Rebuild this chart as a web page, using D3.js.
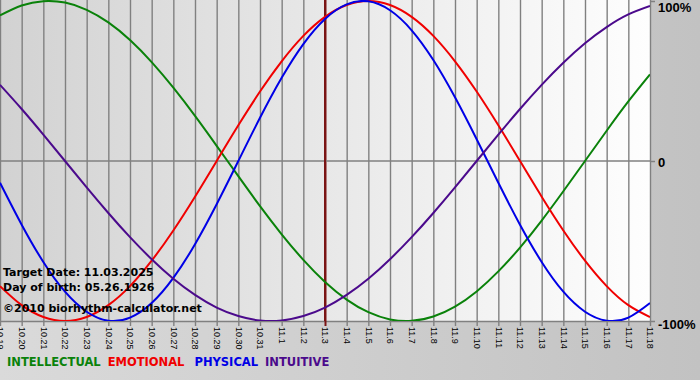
<!DOCTYPE html>
<html>
<head>
<meta charset="utf-8">
<script src="https://cdn.jsdelivr.net/npm/d3@7"></script>
<style>
	body { margin: 0; background: #c8c8c8; }
	svg { display: block; font-family: "DejaVu Sans", Verdana, sans-serif; }
	.tick-label { font-size: 9px; fill: #000; }
	.info { font-size: 11px; font-weight: bold; fill: #000; }
	.legend { font-size: 11.5px; font-weight: bold; }
</style>
</head>
<body>
<div id="chart"></div>
<script>
// day labels, 15 days each side of the target date
const days = ['10.19', '10.20', '10.21', '10.22', '10.23', '10.24', '10.25', '10.26', '10.27', '10.28',
	'10.29', '10.30', '10.31', '11.1', '11.2', '11.3', '11.4', '11.5', '11.6', '11.7', '11.8', '11.9',
	'11.10', '11.11', '11.12', '11.13', '11.14', '11.15', '11.16', '11.17', '11.18'];
const targetDay = '11.3';

// percent, one value per day
const intellectual = [91, 97.2, 99.9, 99, 94.5, 86.6, 75.6, 61.8, 45.8, 28.2, 9.5, -9.5, -28.2, -45.8, -61.8,
	-75.6, -86.6, -94.5, -99, -99.9, -97.2, -91, -81.5, -69, -54.1, -37.2, -18.9, 0, 18.9, 37.2, 54.1];
const emotional = [-78.2, -90.1, -97.5, -100, -97.5, -90.1, -78.2, -62.3, -43.4, -22.3, 0, 22.3, 43.4, 62.3,
	78.2, 90.1, 97.5, 100, 97.5, 90.1, 78.2, 62.3, 43.4, 22.3, 0, -22.3, -43.4, -62.3, -78.2, -90.1, -97.5];
const physical = [-13.6, -39.8, -63.1, -81.7, -94.2, -99.8, -97.9, -88.8, -73.1, -52, -27, 0, 27, 52, 73.1,
	88.8, 97.9, 99.8, 94.2, 81.7, 63.1, 39.8, 13.6, -13.6, -39.8, -63.1, -81.7, -94.2, -99.8, -97.9, -88.8];
const intuitive = [47.6, 32.5, 16.5, 0, -16.5, -32.5, -47.6, -61.4, -73.6, -83.7, -91.6, -96.9, -99.7, -99.7,
	-96.9, -91.6, -83.7, -73.6, -61.4, -47.6, -32.5, -16.5, 0, 16.5, 32.5, 47.6, 61.4, 73.6, 83.7, 91.6, 96.9];

const yTicks = [100, 0, -100];
const yTickLabels = ['100%', '0', '-100%'];

const series = [
	{label: 'INTELLECTUAL', color: '#0a820a', values: intellectual},
	{label: 'EMOTIONAL', color: '#f00000', values: emotional},
	{label: 'PHYSICAL', color: '#0000e6', values: physical},
	{label: 'INTUITIVE', color: '#4b0a8c', values: intuitive}
];

const infoLines = ['Target Date: 11.03.2025', 'Day of birth: 05.26.1926', '\u00a92010 biorhythm-calculator.net'];

const width = 700, height = 380;
const plot = {left: 0, top: 0, right: 650, bottom: 321};

const svg = d3.select('#chart')
	.append('svg')
	.attr('width', width)
	.attr('height', height);

const defs = svg.append('defs');

const outerGrad = defs.append('linearGradient')
	.attr('id', 'outer-bg');
outerGrad.append('stop').attr('offset', '0%').attr('stop-color', '#dadada');
outerGrad.append('stop').attr('offset', '100%').attr('stop-color', '#c2c2c2');

const plotGrad = defs.append('linearGradient')
	.attr('id', 'plot-bg');
plotGrad.append('stop').attr('offset', '0%').attr('stop-color', '#d2d2d2');
plotGrad.append('stop').attr('offset', '100%').attr('stop-color', '#fefefe');

defs.append('clipPath')
	.attr('id', 'plot-clip')
	.append('rect')
	.attr('x', plot.left)
	.attr('y', plot.top)
	.attr('width', plot.right - plot.left)
	.attr('height', plot.bottom - plot.top);

svg.append('rect')
	.attr('width', width)
	.attr('height', height)
	.attr('fill', 'url(#outer-bg)');

svg.append('rect')
	.attr('x', plot.left)
	.attr('y', plot.top)
	.attr('width', plot.right - plot.left)
	.attr('height', plot.bottom - plot.top)
	.attr('fill', 'url(#plot-bg)');

const x = d3.scalePoint()
	.domain(days)
	.range([plot.left, plot.right]);

const y = d3.scaleLinear()
	.domain([-100, 100])
	.range([plot.bottom, plot.top + 1]);

// vertical day grid + bottom axis
const xAxis = d3.axisBottom(x)
	.tickSize(5)
	.tickSizeOuter(0);

svg.append('g')
	.attr('transform', `translate(0,${plot.bottom})`)
	.call(xAxis)
	.call(g => g.select('.domain').attr('stroke', '#808080').attr('stroke-width', 1.5))
	.call(g => g.selectAll('.tick line')
		.attr('y1', -(plot.bottom - plot.top))
		.attr('stroke', d => d === targetDay ? '#7a1414' : '#808080')
		.attr('stroke-width', d => d === targetDay ? 2 : 1.4))
	.call(g => g.selectAll('.tick text')
		.attr('class', 'tick-label')
		.attr('transform', 'rotate(90)')
		.attr('x', 6)
		.attr('y', 0)
		.attr('dy', '0.35em')
		.style('text-anchor', 'start')
		.attr('font-family', null)
		.attr('font-size', null));

// zero line and right labels
const yAxis = d3.axisRight(y)
	.tickValues(yTicks)
	.tickSize(5)
	.tickFormat((d, i) => yTickLabels[i]);

svg.append('g')
	.attr('transform', `translate(${plot.right},0)`)
	.call(yAxis)
	.call(g => g.select('.domain').remove())
	.call(g => g.selectAll('.tick line').attr('stroke', '#808080').attr('stroke-width', 1.5))
	.call(g => g.selectAll('.tick text')
		.attr('x', 8)
		.attr('dy', (d, i) => ['0.8em', '0.45em', '0.6em'][i])
		.attr('font-family', null)
		.attr('font-size', 13)
		.attr('font-weight', 'bold')
		.attr('fill', '#000'));

svg.append('line')
	.attr('x1', plot.left)
	.attr('x2', plot.right)
	.attr('y1', y(0))
	.attr('y2', y(0))
	.attr('stroke', '#808080')
	.attr('stroke-width', 1.5);

// target date marker
svg.append('line')
	.attr('x1', x(targetDay))
	.attr('x2', x(targetDay))
	.attr('y1', plot.top)
	.attr('y2', plot.bottom)
	.attr('stroke', '#7a1414')
	.attr('stroke-width', 2);

const line = d3.line()
	.x((d, i) => x(days[i]))
	.y(d => y(d))
	.curve(d3.curveNatural);

svg.append('g')
	.attr('clip-path', 'url(#plot-clip)')
	.selectAll('path')
	.data(series)
	.join('path')
	.attr('d', d => line(d.values))
	.attr('fill', 'none')
	.attr('stroke', d => d.color)
	.attr('stroke-width', 2);

svg.append('g')
	.selectAll('text')
	.data(infoLines)
	.join('text')
	.attr('class', 'info')
	.attr('x', 3)
	.attr('y', (d, i) => [276, 291, 312][i])
	.text(d => d);

// legend, laid out by measured text width
const legend = svg.append('text')
	.attr('class', 'legend')
	.attr('x', 7)
	.attr('y', 366);

legend.selectAll('tspan')
	.data(series)
	.join('tspan')
	.attr('fill', d => d.color)
	.attr('dx', (d, i) => [0, 7, 10, 7][i])
	.text(d => d.label);
</script>
</body>
</html>
